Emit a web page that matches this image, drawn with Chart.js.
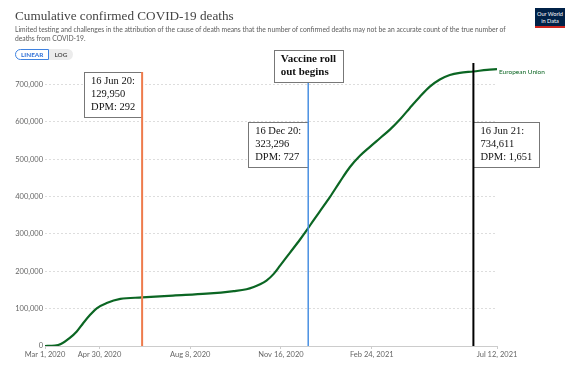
<!DOCTYPE html>
<html>
<head>
<meta charset="utf-8">
<script src="https://cdn.jsdelivr.net/npm/chart.js@4/dist/chart.umd.min.js"></script>
<style>
  body { margin: 0; background: #fff; }
  #wrap { position: relative; width: 577px; height: 372px; overflow: hidden; }
  #chart { position: absolute; left: 0; top: 0; }
  .title { position: absolute; left: 15px; top: 8px; font: 13.2px/15px "Liberation Serif", serif; color: #444; white-space: nowrap; }
  .subtitle { position: absolute; left: 15px; top: 24.5px; width: 502px; font: 6.75px/9.5px Lato, sans-serif; color: #5b5b5b; }
  .toggle { position: absolute; left: 15px; top: 49px; height: 11px; display: flex; font: bold 6.4px/11px Lato, sans-serif; }
  .toggle .on { border: 1px solid #3f82e0; color: #2e6fd6; border-radius: 6px 0 0 6px; padding: 0 5px; height: 9px; line-height: 9px; background: #fff; }
  .toggle .off { background: #ececec; color: #555; border-radius: 0 6px 6px 0; padding: 0 6px 0 5px; }
  .logo { position: absolute; left: 535px; top: 8px; width: 30px; height: 20px; background: #002147; border-bottom: 2px solid #ce261e; color: #fff; font: 5.6px/6.5px Lato, sans-serif; text-align: center; padding-top: 3px; box-sizing: border-box; }
</style>
</head>
<body>
<div id="wrap">
  <canvas id="chart" width="577" height="372"></canvas>
  <div class="title">Cumulative confirmed COVID-19 deaths</div>
  <div class="subtitle">Limited testing and challenges in the attribution of the cause of death means that the number of confirmed deaths may not be an accurate count of the true number of deaths from COVID-19.</div>
  <div class="toggle"><span class="on">LINEAR</span><span class="off">LOG</span></div>
  <div class="logo">Our World<br>in Data</div>
</div>
<script>
// days since Mar 1, 2020
const days = [0, 11, 18, 27, 35, 42, 50, 57, 68, 83, 107, 141, 178, 208, 222, 230, 237, 244, 252, 259, 270, 281, 289, 296, 303, 314, 325, 336, 347, 358, 369, 380, 391, 402, 413, 424, 435, 446, 457, 472, 487, 498];
const deaths = [0, 1000, 6000, 21000, 39000, 61000, 84000, 101000, 115000, 126000, 129950, 135000, 140000, 147000, 152000, 158000, 165000, 175000, 193000, 215000, 250000, 285000, 312000, 337000, 361000, 399000, 440000, 479000, 509000, 533000, 556000, 579000, 606000, 637000, 667000, 694000, 713000, 725000, 731000, 734611, 739000, 741000];
const seriesName = "European Union";

const yTicks = [0, 100000, 200000, 300000, 400000, 500000, 600000, 700000];
const tickDays = [0, 60, 160, 260, 360, 498];
const tickLabels = ["Mar 1, 2020", "Apr 30, 2020", "Aug 8, 2020", "Nov 16, 2020", "Feb 24, 2021", "Jul 12, 2021"];

const markerDays = [107, 290, 472];
const markerText = [
  ["16 Jun 20:", "129,950", "DPM: 292"],
  ["16 Dec 20:", "323,296", "DPM: 727"],
  ["16 Jun 21:", "734,611", "DPM: 1,651"]
];
const vaccineText = ["Vaccine roll", "out begins"];

const lineColor = "#0b6623";

function drawBox(ctx, lines, x, top, align, bold) {
  ctx.font = (bold ? "bold 11px" : "10.5px") + ' "Liberation Serif", serif';
  let w = 0;
  lines.forEach(t => { w = Math.max(w, ctx.measureText(t).width); });
  w = Math.round(w + 14);
  const h = 9 + (lines.length - 1) * 13 + 10;
  let left = x;
  if (align === "right") left = x - w;
  if (align === "center") left = x - w / 2;
  ctx.fillStyle = "#fff";
  ctx.fillRect(left, top, w, h);
  ctx.strokeStyle = "#777";
  ctx.lineWidth = 1;
  ctx.strokeRect(Math.round(left) + 0.5, Math.round(top) + 0.5, w, h);
  ctx.fillStyle = "#111";
  ctx.textBaseline = "middle";
  ctx.textAlign = "left";
  lines.forEach((t, i) => ctx.fillText(t, left + 7, top + 9.5 + i * 13));
  return top + h;
}

const markers = {
  id: "markers",
  afterDatasetsDraw(chart) {
    const { ctx, chartArea, scales } = chart;
    const look = [
      { color: "#ee7b4c", align: "right", boxTop: 72, width: 2 },
      { color: "#4a90e2", align: "right", boxTop: 122, width: 1.5 },
      { color: "#000", align: "left", boxTop: 122, width: 2 }
    ];
    ctx.save();
    const vx = scales.x.getPixelForValue(markerDays[1]);
    const vaccineBottom = drawBox(ctx, vaccineText, vx, 50, "center", true);
    const lineTops = [72, vaccineBottom + 1, 63];
    markerDays.forEach((d, i) => {
      const px = scales.x.getPixelForValue(d);
      drawBox(ctx, markerText[i], px, look[i].boxTop, look[i].align, false);
    });
    markerDays.forEach((d, i) => {
      const px = scales.x.getPixelForValue(d);
      ctx.strokeStyle = look[i].color;
      ctx.lineWidth = look[i].width;
      ctx.beginPath();
      ctx.moveTo(px, lineTops[i]);
      ctx.lineTo(px, chartArea.bottom);
      ctx.stroke();
    });
    // series label at the end of the line
    const last = chart.getDatasetMeta(0).data.at(-1);
    ctx.font = "6.5px Lato, sans-serif";
    ctx.fillStyle = lineColor;
    ctx.textBaseline = "middle";
    ctx.fillText(seriesName, last.x + 2, last.y + 3);
    ctx.restore();
  }
};

new Chart(document.getElementById("chart"), {
  type: "line",
  data: {
    datasets: [{
      label: seriesName,
      data: days.map((d, i) => ({ x: d, y: deaths[i] })),
      borderColor: lineColor,
      borderWidth: 2.2,
      pointRadius: 0,
      cubicInterpolationMode: "monotone",
      fill: false
    }]
  },
  options: {
    responsive: false,
    animation: false,
    layout: { padding: { left: 15, right: 80, top: 62, bottom: 8 } },
    plugins: { legend: { display: false }, tooltip: { enabled: false } },
    scales: {
      x: {
        type: "linear",
        min: 0,
        max: 498,
        afterBuildTicks: s => { s.ticks = tickDays.map(v => ({ value: v })); },
        afterFit: s => { s.height = 18; },
        ticks: {
          autoSkip: false,
          maxRotation: 0,
          padding: 1,
          color: "#666",
          font: { family: "Lato", size: 7.5 },
          callback: v => tickLabels[tickDays.indexOf(v)]
        },
        grid: { drawOnChartArea: false, tickLength: 3, color: "#ccc" },
        border: { display: true, color: "#ccc" }
      },
      y: {
        min: 0,
        max: 760000,
        afterBuildTicks: s => { s.ticks = yTicks.map(v => ({ value: v })); },
        afterFit: s => { s.width = 30; },
        ticks: {
          autoSkip: false,
          padding: 2,
          color: "#666",
          font: { family: "Lato", size: 7.5 },
          callback: v => v.toLocaleString("en-US")
        },
        grid: { drawTicks: false, color: "#ddd" },
        border: { display: false, dash: [2, 2] }
      }
    }
  },
  plugins: [markers]
});
</script>
</body>
</html>
